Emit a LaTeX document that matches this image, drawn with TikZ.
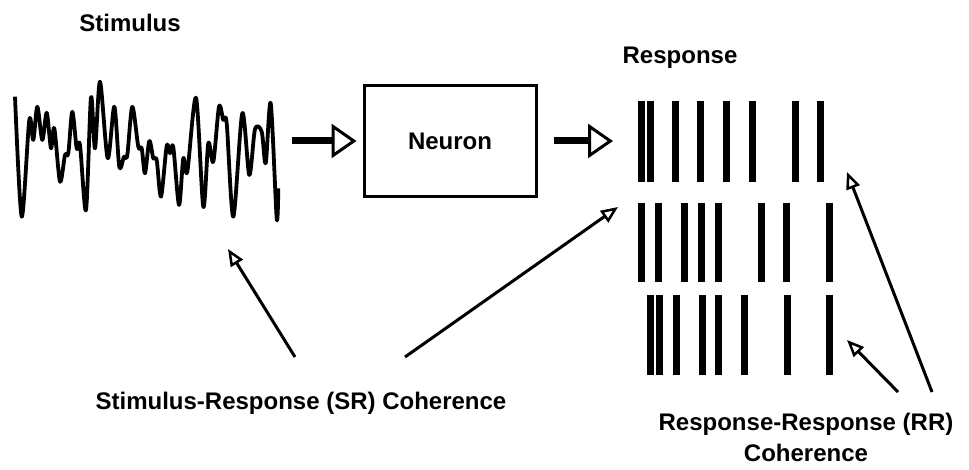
\documentclass[tikz,border=0pt]{standalone}
\usepackage{fontspec}
\setmainfont{Liberation Sans}
\usetikzlibrary{arrows.meta}
\begin{document}
\begin{tikzpicture}[x=1pt,y=-1pt,
	lab/.style={font=\fontsize{24}{31}\selectfont\bfseries},
	bigarrow/.style={line width=7pt,-{Triangle[open,length=25pt,width=34pt,line width=3pt]}},
	pointer/.style={line width=3pt,-{Triangle[open,length=17pt,width=14pt,line width=2.5pt]}},
	spike/.style={line width=7pt},
	wave/.style={line width=3.8pt,line join=round}]
				\useasboundingbox (0,0) rectangle (969,470);
				\node[lab] (S) at (130,23) {Stimulus};
				\node[lab] (R) at (680,58) {Response};
				\node[lab,draw,line width=3pt,minimum width=172pt,minimum height=111pt] (N) at (450,141) {Neuron};
				\node[lab] (SR) at (301,403) {Stimulus-Response (SR) Coherence};
				\node[lab,align=center] (RR) at (806,437) {Response-Response (RR)\\Coherence};
				
				\draw[wave] plot[smooth,tension=0.5] coordinates {(15,96.7) (21.7,216.7) (29.3,120) (33.3,140) (37.3,106.7) (42.3,140) (46.7,112.7) (51,148.3) (54.3,128.3) (60,181.7) (65,155) (68.3,153.3) (72.3,111.7) (76.7,148.3) (80,145) (86,210) (91,97.3) (95,148.3) (100,81.7) (107.7,158.3) (114.3,106.7) (119.3,166.7) (124,156.7) (127.3,155) (132.3,106.7) (138.3,146.7) (141.7,148.3) (145,173.3) (149.3,141) (153.3,158.3) (156.7,160) (161,196.7) (166.7,146) (170,153.3) (173.3,147.3) (179,205) (183.3,158.3) (187.3,171.7) (196,97.7) (203.3,206.7) (208.3,143.3) (213.3,161.7) (219,106.7) (223.3,120) (226.7,123.3) (233.3,216.7) (242.3,113.3) (249.3,175) (255,129.3) (261.7,131.7) (265.7,163.3) (270.7,103.3) (276.7,218.3) (278.3,188.3)};
				
				\foreach \x in {641.7,650,675.3,700.8,726.7,752,795.3,820.7}
					\draw[spike] (\x,101) -- (\x,182);
				\foreach \x in {641.7,658.3,684,701,718.7,761,786.7,829.3}
					\draw[spike] (\x,203) -- (\x,282);
				\foreach \x in {650,659,676,702,718,744,787,829}
					\draw[spike] (\x,295) -- (\x,375);
				
				\coordinate (W) at (292,141);
				\coordinate (P) at (613,141);
				\draw[bigarrow,shorten >=6pt] (W) -- (N.west);
				\draw[bigarrow,shorten <=16pt] (N.east) -- (P);
				
				\coordinate (SR1) at (295,357);
				\coordinate (SR2) at (405,357);
				\coordinate (WT) at (228,249);
				\coordinate (PT) at (618,207);
				\draw[pointer] (SR1) -- (WT);
				\draw[pointer] (SR2) -- (PT);
				
				\coordinate (RR1) at (898,392);
				\coordinate (RR2) at (932,392);
				\coordinate (T3) at (847,340);
				\coordinate (T1) at (847,172);
				\draw[pointer] (RR1) -- (T3);
				\draw[pointer] (RR2) -- (T1);
			\end{tikzpicture}
\end{document}
